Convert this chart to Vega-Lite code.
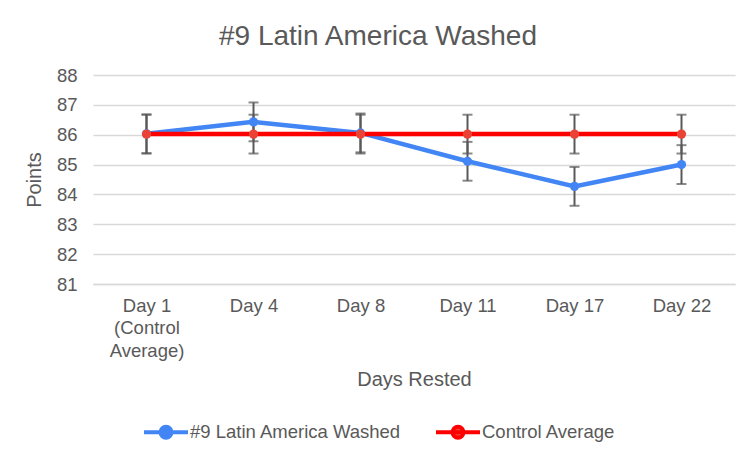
{
  "$schema": "https://vega.github.io/schema/vega-lite/v6.json",
  "width": 642,
  "height": 209,
  "autosize": "none",
  "padding": {"left": 93, "top": 75, "right": 21, "bottom": 178},
  "background": "white",
  "title": {
    "text": "#9 Latin America Washed",
    "fontSize": 28,
    "fontWeight": "normal",
    "color": "#595959",
    "dx": -36,
    "offset": 15,
    "anchor": "middle"
  },
  "data": {
    "values": [
      {"day": "Day 1", "series": "#9 Latin America Washed", "points": 86.03, "lo": 85.38, "hi": 86.68},
      {"day": "Day 4", "series": "#9 Latin America Washed", "points": 86.43, "lo": 85.78, "hi": 87.08},
      {"day": "Day 8", "series": "#9 Latin America Washed", "points": 86.06, "lo": 85.41, "hi": 86.71},
      {"day": "Day 11", "series": "#9 Latin America Washed", "points": 85.11, "lo": 84.46, "hi": 85.76},
      {"day": "Day 17", "series": "#9 Latin America Washed", "points": 84.27, "lo": 83.62, "hi": 84.92},
      {"day": "Day 22", "series": "#9 Latin America Washed", "points": 85.0, "lo": 84.35, "hi": 85.65},
      {"day": "Day 1", "series": "Control Average", "points": 86.02, "lo": 85.37, "hi": 86.67},
      {"day": "Day 4", "series": "Control Average", "points": 86.02, "lo": 85.37, "hi": 86.67},
      {"day": "Day 8", "series": "Control Average", "points": 86.02, "lo": 85.37, "hi": 86.67},
      {"day": "Day 11", "series": "Control Average", "points": 86.02, "lo": 85.37, "hi": 86.67},
      {"day": "Day 17", "series": "Control Average", "points": 86.02, "lo": 85.37, "hi": 86.67},
      {"day": "Day 22", "series": "Control Average", "points": 86.02, "lo": 85.37, "hi": 86.67}
    ]
  },
  "encoding": {
    "x": {
      "field": "day",
      "type": "ordinal",
      "sort": ["Day 1", "Day 4", "Day 8", "Day 11", "Day 17", "Day 22"],
      "scale": {"type": "point", "padding": 0.5},
      "axis": {
        "title": "Days Rested",
        "labelAngle": 0,
        "labelExpr": "datum.value == 'Day 1' ? ['Day 1', '(Control', 'Average)'] : datum.value",
        "labelLineHeight": 22.5,
        "labelPadding": 12,
        "titlePadding": 10,
        "grid": false,
        "ticks": false,
        "domain": true,
        "domainColor": "#d9d9d9",
        "domainWidth": 1.5
      }
    },
    "y": {
      "field": "points",
      "type": "quantitative",
      "scale": {"domain": [81, 88], "nice": false, "zero": false},
      "axis": {
        "title": "Points",
        "values": [81, 82, 83, 84, 85, 86, 87, 88],
        "grid": true,
        "gridColor": "#d9d9d9",
        "gridWidth": 1.5,
        "domain": false,
        "ticks": false,
        "labelPadding": 16,
        "titlePadding": 12
      }
    }
  },
  "layer": [
    {
      "mark": {"type": "line", "strokeWidth": 4.5},
      "encoding": {
        "color": {
          "field": "series",
          "type": "nominal",
          "sort": ["#9 Latin America Washed", "Control Average"],
          "scale": {"domain": ["#9 Latin America Washed", "Control Average"], "range": ["#4285f4", "#ff0000"]},
          "legend": {
            "title": null,
            "orient": "none",
            "direction": "horizontal",
            "legendX": 49,
            "legendY": 333,
            "symbolType": "M-1,0L1,0M0.25,0A0.25,0.25,0,1,1,-0.25,0A0.25,0.25,0,1,1,0.25,0Z",
            "symbolSize": 1936,
            "symbolStrokeWidth": 4,
            "labelOffset": 0,
            "columnPadding": 26,
            "labelFontSize": 18.5,
            "labelColor": "#595959",
            "labelLimit": 400,
            "encode": {
              "symbols": {
                "update": {
                  "fill": {"signal": "datum.value == 'Control Average' ? '#ea4335' : '#4285f4'"},
                  "stroke": {"signal": "datum.value == 'Control Average' ? '#ff0000' : '#4285f4'"},
                  "opacity": {"value": 1}
                }
              }
            }
          }
        }
      }
    },
    {
      "mark": {"type": "rule", "color": "#595959", "strokeWidth": 2},
      "encoding": {"y": {"field": "lo", "type": "quantitative"}, "y2": {"field": "hi"}}
    },
    {
      "mark": {"type": "tick", "color": "#595959", "thickness": 2, "size": 10, "orient": "horizontal"},
      "encoding": {"y": {"field": "lo", "type": "quantitative"}}
    },
    {
      "mark": {"type": "tick", "color": "#595959", "thickness": 2, "size": 10, "orient": "horizontal"},
      "encoding": {"y": {"field": "hi", "type": "quantitative"}}
    },
    {
      "mark": {"type": "point", "filled": true, "opacity": 1, "size": 85, "shape": "circle"},
      "encoding": {
        "color": {
          "field": "series",
          "type": "nominal",
          "scale": {"domain": ["#9 Latin America Washed", "Control Average"], "range": ["#4285f4", "#ea4335"]},
          "legend": null
        }
      }
    }
  ],
  "resolve": {"scale": {"color": "independent"}},
  "config": {
    "font": "Liberation Sans",
    "view": {"stroke": null},
    "axis": {
      "labelFontSize": 18.5,
      "labelColor": "#595959",
      "titleFontSize": 20,
      "titleFontWeight": "normal",
      "titleColor": "#595959"
    }
  }
}
